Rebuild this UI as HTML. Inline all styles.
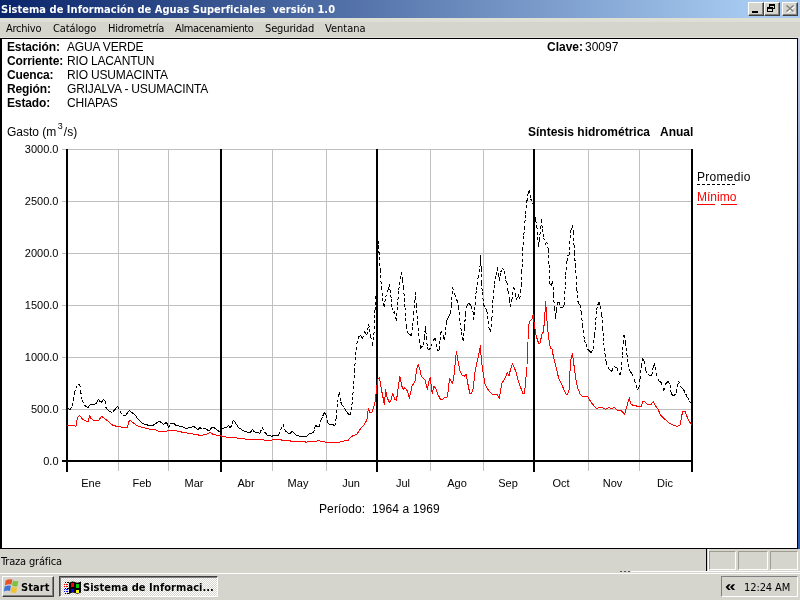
<!DOCTYPE html>
<html lang="es">
<head>
<meta charset="utf-8">
<title>Sistema de Información de Aguas Superficiales versión 1.0</title>
<style>
html,body{margin:0;padding:0;}
body{width:800px;height:600px;overflow:hidden;background:#d6d5cd;position:relative;font-family:"Liberation Sans","DejaVu Sans",sans-serif;font-size:12px;color:#000;}
.abs{position:absolute;}
#titlebar{left:0;top:0;width:800px;height:18px;background:linear-gradient(to right,#0a246a 0,#a6caf0 750px,#a6caf0 100%);}
#title{left:1px;top:2px;color:#fff;font-weight:bold;font-size:11px;line-height:15px;white-space:nowrap;font-family:"DejaVu Sans Condensed","DejaVu Sans","Liberation Sans",sans-serif;letter-spacing:0.03px;}
.tb{top:2px;width:16px;height:14px;background:#d6d5cd;box-sizing:border-box;border:1px solid;border-color:#fff #404040 #404040 #fff;box-shadow:inset -1px -1px 0 #808080;}
#menubar{left:0;top:18px;width:800px;height:20px;background:#d6d5cd;}
.menu{top:22px;font-size:11px;line-height:13px;white-space:nowrap;font-family:"DejaVu Sans Condensed","DejaVu Sans","Liberation Sans",sans-serif;letter-spacing:-0.25px;}
#client{left:0;top:38px;width:798px;height:511px;background:#fff;box-sizing:border-box;border:1px solid #000;border-left-width:2px;}
.lbl{font-size:12px;line-height:14px;white-space:nowrap;}
.b{font-weight:bold;}
#status{left:0;top:549px;width:800px;height:23px;background:#d6d5cd;}
#taskbar{left:0;top:573px;width:800px;height:27px;background:#d6d5cd;border-top:1px solid #fff;box-sizing:border-box;}
.tah{font-family:"DejaVu Sans Condensed","DejaVu Sans","Liberation Sans",sans-serif;white-space:nowrap;}

.pan{box-sizing:border-box;border:1px solid;border-color:#9d9d92 #fff #fff #9d9d92;}
#startbtn{box-sizing:border-box;background:#d6d5cd;border:1px solid;border-color:#fff #404040 #404040 #fff;box-shadow:inset -1px -1px 0 #808080;}
#taskbtn{box-sizing:border-box;border:1px solid;border-color:#404040 #fff #fff #404040;box-shadow:inset 1px 1px 0 #808080;background:repeating-conic-gradient(#fff 0% 25%,#d6d5cd 0% 50%) 0 0/2px 2px;}
#tray{box-sizing:border-box;border:1px solid;border-color:#808080 #fff #fff #808080;}
</style>
</head>
<body>
<div id="titlebar" class="abs"></div>
<div id="title" class="abs">Sistema de Información de Aguas Superficiales&nbsp; versión 1.0</div>
<div class="abs tb" style="left:748px"></div>
<div class="abs tb" style="left:764px"></div>
<div class="abs tb" style="left:782px"></div>
<svg class="abs" style="left:748px;top:2px" width="50" height="14" viewBox="0 0 50 14" shape-rendering="crispEdges">
<rect x="4" y="9" width="6" height="2" fill="#000"/>
<rect x="21.5" y="2.5" width="5" height="4" fill="none" stroke="#000"/><rect x="21" y="2" width="6" height="2" fill="#000"/>
<rect x="19.5" y="5.5" width="5" height="4" fill="#d6d5cd" stroke="#000"/><rect x="19" y="5" width="6" height="2" fill="#000"/>
<path d="M39.5,4.5 L46.5,10.5 M46.5,4.5 L39.5,10.5" stroke="#fff" stroke-width="1.6" shape-rendering="auto"/>
<path d="M38.5,3.5 L45.5,9.5 M45.5,3.5 L38.5,9.5" stroke="#808080" stroke-width="1.6" shape-rendering="auto"/>
</svg>
<div id="menubar" class="abs"></div>
<div class="abs" style="left:0;top:18px;width:800px;height:4px;background:#dfdfd4"></div>
<div class="abs" style="left:0;top:20px;width:800px;height:1px;background:#dcdcda"></div>
<div class="abs" style="left:0;top:37px;width:800px;height:1px;background:#e2e1da"></div>
<div class="abs menu" style="left:6px">Archivo</div>
<div class="abs menu" style="left:53px;letter-spacing:-0.12px">Catálogo</div>
<div class="abs menu" style="left:108px">Hidrometría</div>
<div class="abs menu" style="left:175px;letter-spacing:-0.38px">Almacenamiento</div>
<div class="abs menu" style="left:265px;letter-spacing:-0.13px">Seguridad</div>
<div class="abs menu" style="left:325px;letter-spacing:0px">Ventana</div>
<div id="client" class="abs"></div>
<div class="abs" style="left:798px;top:38px;width:2px;height:511px;background:linear-gradient(to bottom,#c9cfe6 0%,#8fa3cc 25%,#5577b5 60%,#2a5aa6 100%)"></div>

<div class="abs lbl b" style="left:7px;top:40px;letter-spacing:-0.13px">Estación:</div>
<div class="abs lbl" style="left:67px;top:40px;letter-spacing:-0.17px">AGUA VERDE</div>
<div class="abs lbl b" style="left:7px;top:54px;letter-spacing:-0.13px">Corriente:</div>
<div class="abs lbl" style="left:67px;top:54px;letter-spacing:-0.17px">RIO LACANTUN</div>
<div class="abs lbl b" style="left:7px;top:68px;letter-spacing:-0.13px">Cuenca:</div>
<div class="abs lbl" style="left:67px;top:68px;letter-spacing:-0.17px">RIO USUMACINTA</div>
<div class="abs lbl b" style="left:7px;top:82px;letter-spacing:-0.13px">Región:</div>
<div class="abs lbl" style="left:67px;top:82px;letter-spacing:-0.17px">GRIJALVA - USUMACINTA</div>
<div class="abs lbl b" style="left:7px;top:96px;letter-spacing:-0.13px">Estado:</div>
<div class="abs lbl" style="left:67px;top:96px;letter-spacing:-0.17px">CHIAPAS</div>
<div class="abs lbl b" style="left:547px;top:40px">Clave:</div>
<div class="abs lbl" style="left:585px;top:40px">30097</div>
<div class="abs lbl" style="left:7px;top:125px">Gasto (m<span style="font-size:9px;position:relative;top:-7.5px;margin:0 1px 0 1.5px">3</span>/s)</div>
<div class="abs lbl b" style="left:528px;top:125px">Síntesis hidrométrica</div>
<div class="abs lbl b" style="left:660px;top:125px">Anual</div>

<svg class="abs" style="left:0;top:0" width="800" height="600" viewBox="0 0 800 600" id="chart">
<!--CHART-->
<g shape-rendering="crispEdges">
<rect x="62" y="149" width="630" height="1" fill="#c0c0c0"/>
<rect x="62" y="201" width="630" height="1" fill="#c0c0c0"/>
<rect x="62" y="253" width="630" height="1" fill="#c0c0c0"/>
<rect x="62" y="305" width="630" height="1" fill="#c0c0c0"/>
<rect x="62" y="357" width="630" height="1" fill="#c0c0c0"/>
<rect x="62" y="409" width="630" height="1" fill="#c0c0c0"/>
<rect x="118" y="149" width="1" height="322" fill="#c0c0c0"/>
<rect x="168" y="149" width="1" height="322" fill="#c0c0c0"/>
<rect x="272" y="149" width="1" height="322" fill="#c0c0c0"/>
<rect x="326" y="149" width="1" height="322" fill="#c0c0c0"/>
<rect x="430" y="149" width="1" height="322" fill="#c0c0c0"/>
<rect x="483" y="149" width="1" height="322" fill="#c0c0c0"/>
<rect x="588" y="149" width="1" height="322" fill="#c0c0c0"/>
<rect x="639" y="149" width="1" height="322" fill="#c0c0c0"/>
<rect x="66" y="149" width="2" height="323" fill="#000"/>
<rect x="220" y="149" width="2" height="323" fill="#000"/>
<rect x="376" y="149" width="2" height="323" fill="#000"/>
<rect x="533" y="149" width="2" height="323" fill="#000"/>
<rect x="691" y="149" width="2" height="323" fill="#000"/>
<rect x="62" y="460" width="631" height="2" fill="#000"/>
</g>
<text x="58.5" y="153" text-anchor="end" font-size="11" font-family="Liberation Sans, sans-serif">3000.0</text>
<text x="58.5" y="205" text-anchor="end" font-size="11" font-family="Liberation Sans, sans-serif">2500.0</text>
<text x="58.5" y="257" text-anchor="end" font-size="11" font-family="Liberation Sans, sans-serif">2000.0</text>
<text x="58.5" y="309" text-anchor="end" font-size="11" font-family="Liberation Sans, sans-serif">1500.0</text>
<text x="58.5" y="361" text-anchor="end" font-size="11" font-family="Liberation Sans, sans-serif">1000.0</text>
<text x="58.5" y="413" text-anchor="end" font-size="11" font-family="Liberation Sans, sans-serif">500.0</text>
<text x="58.5" y="465" text-anchor="end" font-size="11" font-family="Liberation Sans, sans-serif">0.0</text>
<text x="91" y="487" text-anchor="middle" font-size="11" font-family="Liberation Sans, sans-serif">Ene</text>
<text x="142" y="487" text-anchor="middle" font-size="11" font-family="Liberation Sans, sans-serif">Feb</text>
<text x="194" y="487" text-anchor="middle" font-size="11" font-family="Liberation Sans, sans-serif">Mar</text>
<text x="246" y="487" text-anchor="middle" font-size="11" font-family="Liberation Sans, sans-serif">Abr</text>
<text x="298" y="487" text-anchor="middle" font-size="11" font-family="Liberation Sans, sans-serif">May</text>
<text x="351" y="487" text-anchor="middle" font-size="11" font-family="Liberation Sans, sans-serif">Jun</text>
<text x="403" y="487" text-anchor="middle" font-size="11" font-family="Liberation Sans, sans-serif">Jul</text>
<text x="457" y="487" text-anchor="middle" font-size="11" font-family="Liberation Sans, sans-serif">Ago</text>
<text x="508" y="487" text-anchor="middle" font-size="11" font-family="Liberation Sans, sans-serif">Sep</text>
<text x="561" y="487" text-anchor="middle" font-size="11" font-family="Liberation Sans, sans-serif">Oct</text>
<text x="612.5" y="487" text-anchor="middle" font-size="11" font-family="Liberation Sans, sans-serif">Nov</text>
<text x="665" y="487" text-anchor="middle" font-size="11" font-family="Liberation Sans, sans-serif">Dic</text>
<path d="M67.50,408.50L70.00,409.40M70.00,409.40L72.50,406.20M72.50,406.20L73.50,400.00M73.50,400.00L74.40,392.50M74.40,392.50L75.95,388.45M75.95,388.45L77.50,384.40M77.50,384.40L79.75,384.40M79.75,384.40L80.60,391.20M80.60,391.20L82.25,400.60M82.25,400.60L84.40,405.00M84.40,405.00L86.90,407.25M86.90,407.25L88.10,407.25M88.10,407.25L90.00,404.40M90.00,404.40L91.47,404.52M91.47,404.52L92.93,404.63M92.93,404.63L94.40,404.75M94.40,404.75L96.25,403.10M96.25,403.10L98.50,399.40M98.50,399.40L101.00,403.10M101.00,403.10L103.50,399.40M103.50,399.40L105.00,401.25M105.00,401.25L106.00,407.50M106.00,407.50L107.38,409.25M107.38,409.25L108.75,411.00M108.75,411.00L110.62,411.75M110.62,411.75L112.50,412.50M112.50,412.50L114.17,410.42M114.17,410.42L115.83,408.33M115.83,408.33L117.50,406.25M117.50,406.25L120.00,411.25M120.00,411.25L122.50,415.60M122.50,415.60L125.00,416.00M125.00,416.00L126.47,414.20M126.47,414.20L127.93,412.40M127.93,412.40L129.40,410.60M129.40,410.60L131.25,412.50M131.25,412.50L132.82,413.12M132.82,413.12L134.40,413.75M134.40,413.75L136.25,416.57M136.25,416.57L138.10,419.40M138.10,419.40L139.77,420.85M139.77,420.85L141.43,422.30M141.43,422.30L143.10,423.75M143.10,423.75L144.57,424.17M144.57,424.17L146.03,424.58M146.03,424.58L147.50,425.00M147.50,425.00L148.97,425.33M148.97,425.33L150.43,425.67M150.43,425.67L151.90,426.00M151.90,426.00L153.35,425.03M153.35,425.03L154.80,424.07M154.80,424.07L156.25,423.10M156.25,423.10L157.82,422.18M157.82,422.18L159.40,421.25M159.40,421.25L160.85,422.30M160.85,422.30L162.30,423.35M162.30,423.35L163.75,424.40M163.75,424.40L166.25,422.25M166.25,422.25L167.50,424.40M167.50,424.40L168.75,428.00M168.75,428.00L170.00,423.50M170.00,423.50L171.88,423.50M171.88,423.50L173.75,423.50M173.75,423.50L176.25,425.60M176.25,425.60L178.13,425.90M178.13,425.90L180.02,426.20M180.02,426.20L181.90,426.50M181.90,426.50L183.35,427.17M183.35,427.17L184.80,427.83M184.80,427.83L186.25,428.50M186.25,428.50L188.12,428.00M188.12,428.00L190.00,427.50M190.00,427.50L191.88,427.00M191.88,427.00L193.75,426.50M193.75,426.50L195.20,427.58M195.20,427.58L196.65,428.67M196.65,428.67L198.10,429.75M198.10,429.75L200.00,427.50M200.00,427.50L202.50,429.40M202.50,429.40L205.00,428.10M205.00,428.10L206.55,429.35M206.55,429.35L208.10,430.60M208.10,430.60L210.00,430.00M210.00,430.00L211.90,427.25M211.90,427.25L213.75,427.25M213.75,427.25L215.62,428.93M215.62,428.93L217.50,430.60M217.50,430.60L219.05,431.25M219.05,431.25L220.60,431.90M220.60,431.90L222.50,428.75M222.50,428.75L223.97,428.13M223.97,428.13L225.43,427.52M225.43,427.52L226.90,426.90M226.90,426.90L228.75,425.60M228.75,425.60L230.40,428.10M230.40,428.10L231.95,424.05M231.95,424.05L233.50,420.00M233.50,420.00L235.20,422.50M235.20,422.50L236.90,425.00M236.90,425.00L238.10,427.25M238.10,427.25L239.98,428.50M239.98,428.50L241.87,429.75M241.87,429.75L243.75,431.00M243.75,431.00L245.20,431.50M245.20,431.50L246.65,432.00M246.65,432.00L248.10,432.50M248.10,432.50L250.60,432.25M250.60,432.25L252.50,429.40M252.50,429.40L255.00,432.75M255.00,432.75L256.67,432.87M256.67,432.87L258.33,432.98M258.33,432.98L260.00,433.10M260.00,433.10L262.25,427.50M262.25,427.50L264.40,431.90M264.40,431.90L265.95,433.57M265.95,433.57L267.50,435.25M267.50,435.25L268.97,435.58M268.97,435.58L270.43,435.92M270.43,435.92L271.90,436.25M271.90,436.25L274.40,435.25M274.40,435.25L275.85,435.17M275.85,435.17L277.30,435.08M277.30,435.08L278.75,435.00M278.75,435.00L280.60,430.00M280.60,430.00L283.10,424.40M283.10,424.40L284.40,429.40M284.40,429.40L286.90,432.50M286.90,432.50L288.45,433.12M288.45,433.12L290.00,433.75M290.00,433.75L291.90,431.25M291.90,431.25L293.35,432.58M293.35,432.58L294.80,433.92M294.80,433.92L296.25,435.25M296.25,435.25L297.70,435.67M297.70,435.67L299.15,436.08M299.15,436.08L300.60,436.50M300.60,436.50L302.18,436.44M302.18,436.44L303.75,436.38M303.75,436.38L305.32,436.31M305.32,436.31L306.90,436.25M306.90,436.25L309.40,433.50M309.40,433.50L311.25,433.12M311.25,433.12L313.10,432.75M313.10,432.75L314.75,429.40M314.75,429.40L315.25,425.60M315.25,425.60L317.32,426.25M317.32,426.25L319.40,426.90M319.40,426.90L321.25,419.40M321.25,419.40L322.82,415.95M322.82,415.95L324.40,412.50M324.40,412.50L326.00,415.00M326.00,415.00L327.75,422.50M327.75,422.50L330.00,425.00M330.00,425.00L332.50,424.00M332.50,424.00L334.75,426.25M334.75,426.25L336.25,418.10M336.25,418.10L337.50,402.50M337.50,402.50L339.40,392.25M339.40,392.25L340.60,401.90M340.60,401.90L342.18,404.70M342.18,404.70L343.75,407.50M343.75,407.50L345.20,409.58M345.20,409.58L346.65,411.67M346.65,411.67L348.10,413.75M348.10,413.75L350.00,415.00M350.00,415.00L351.25,410.00M351.25,410.00L352.50,400.00M352.50,400.00L354.50,371.00M354.50,371.00L355.60,355.00M355.60,355.00L356.90,343.75M356.90,343.75L358.75,336.90M358.75,336.90L360.60,335.60M360.60,335.60L362.50,338.75M362.50,338.75L364.40,331.25M364.40,331.25L366.90,335.00M366.90,335.00L368.75,323.75M368.75,323.75L370.60,336.25M370.60,336.25L372.75,345.60M372.75,345.60L374.40,328.75M374.40,328.75L375.00,310.00M375.00,310.00L376.00,295.00M376.00,295.00L377.20,270.00M377.20,270.00L378.60,241.00M378.60,241.00L379.20,257.50M379.20,257.50L380.20,270.00M380.20,270.00L381.40,287.50M381.40,287.50L382.50,298.00M382.50,298.00L384.00,306.90M384.00,306.90L385.60,297.50M385.60,297.50L388.10,290.00M388.10,290.00L389.40,283.75M389.40,283.75L390.00,290.00M390.00,290.00L391.25,298.75M391.25,298.75L391.90,307.50M391.90,307.50L393.10,313.10M393.10,313.10L394.40,311.25M394.40,311.25L396.50,321.25M396.50,321.25L397.50,305.00M397.50,305.00L398.75,290.00M398.75,290.00L400.00,278.75M400.00,278.75L401.50,271.90M401.50,271.90L402.50,280.00M402.50,280.00L403.50,287.50M403.50,287.50L404.40,298.75M404.40,298.75L405.00,307.50M405.00,307.50L406.25,326.25M406.25,326.25L408.10,333.10M408.10,333.10L409.68,334.35M409.68,334.35L411.25,335.60M411.25,335.60L412.50,326.25M412.50,326.25L413.75,313.75M413.75,313.75L415.00,298.75M415.00,298.75L415.60,291.90M415.60,291.90L416.25,305.00M416.25,305.00L417.75,322.50M417.75,322.50L419.40,340.00M419.40,340.00L420.60,348.75M420.60,348.75L423.10,345.00M423.10,345.00L424.40,337.50M424.40,337.50L425.60,325.60M425.60,325.60L426.25,337.50M426.25,337.50L427.50,347.50M427.50,347.50L428.75,350.60M428.75,350.60L431.25,346.25M431.25,346.25L433.75,339.40M433.75,339.40L435.25,338.50M435.25,338.50L436.25,343.75M436.25,343.75L437.75,351.25M437.75,351.25L439.40,349.40M439.40,349.40L440.00,340.00M440.00,340.00L441.00,330.60M441.00,330.60L443.10,335.60M443.10,335.60L444.40,340.00M444.40,340.00L445.60,330.00M445.60,330.00L446.25,321.90M446.25,321.90L447.70,318.97M447.70,318.97L449.15,316.03M449.15,316.03L450.60,313.10M450.60,313.10L451.50,305.00M451.50,305.00L452.50,287.50M452.50,287.50L454.40,293.75M454.40,293.75L456.90,300.00M456.90,300.00L458.50,306.90M458.50,306.90L460.00,322.50M460.00,322.50L461.55,331.88M461.55,331.88L463.10,341.25M463.10,341.25L464.40,327.50M464.40,327.50L465.60,313.75M465.60,313.75L466.90,305.60M466.90,305.60L468.75,303.10M468.75,303.10L471.25,305.60M471.25,305.60L473.10,312.50M473.10,312.50L473.50,320.00M473.50,320.00L474.75,310.00M474.75,310.00L476.25,290.00M476.25,290.00L478.10,277.50M478.10,277.50L480.00,266.25M480.00,266.25L480.60,255.00M480.60,255.00L481.25,268.75M481.25,268.75L481.60,283.00M481.60,283.00L482.25,292.50M482.25,292.50L483.75,305.00M483.75,305.00L485.32,307.80M485.32,307.80L486.90,310.60M486.90,310.60L488.75,327.50M488.75,327.50L490.60,331.90M490.60,331.90L491.90,318.75M491.90,318.75L493.10,298.75M493.10,298.75L494.40,284.00M494.40,284.00L496.25,275.00M496.25,275.00L497.50,267.50M497.50,267.50L498.75,275.00M498.75,275.00L499.40,281.00M499.40,281.00L500.60,272.50M500.60,272.50L502.50,268.10M502.50,268.10L504.40,270.60M504.40,270.60L505.60,280.00M505.60,280.00L506.90,282.50M506.90,282.50L508.10,291.25M508.10,291.25L509.40,300.00M509.40,300.00L510.25,306.90M510.25,306.90L511.90,300.00M511.90,300.00L513.75,287.50M513.75,287.50L515.60,293.75M515.60,293.75L516.50,300.00M516.50,300.00L518.10,294.40M518.10,294.40L519.75,298.75M519.75,298.75L520.60,292.50M520.60,292.50L521.25,285.00M521.25,285.00L521.90,272.50M521.90,272.50L522.75,250.00M522.75,250.00L523.75,235.00M523.75,235.00L524.40,228.75M524.40,228.75L525.60,213.75M525.60,213.75L526.90,201.25M526.90,201.25L528.10,193.75M528.10,193.75L529.40,190.00M529.40,190.00L530.60,198.75M530.60,198.75L532.75,202.50M532.75,202.50L534.00,211.25M534.00,211.25L535.60,220.00M535.60,220.00L536.90,226.25M536.90,226.25L538.10,243.75M538.10,243.75L538.60,247.50M538.60,247.50L539.75,240.00M539.75,240.00L540.25,228.75M540.25,228.75L541.50,219.40M541.50,219.40L542.25,228.75M542.25,228.75L543.75,237.50M543.75,237.50L545.25,244.50M545.25,244.50L546.60,241.50M546.60,241.50L548.50,250.00M548.50,250.00L549.00,265.00M549.00,265.00L550.00,283.75M550.00,283.75L551.25,285.60M551.25,285.60L552.75,281.25M552.75,281.25L553.50,295.00M553.50,295.00L554.40,307.50M554.40,307.50L555.60,318.75M555.60,318.75L556.25,310.00M556.25,310.00L557.50,302.50M557.50,302.50L559.00,301.90M559.00,301.90L560.25,307.50M560.25,307.50L562.50,308.10M562.50,308.10L564.40,305.00M564.40,305.00L565.00,290.00M565.00,290.00L565.60,275.00M565.60,275.00L566.90,261.25M566.90,261.25L568.10,255.00M568.10,255.00L569.40,255.00M569.40,255.00L569.75,243.75M569.75,243.75L570.60,231.25M570.60,231.25L572.50,225.00M572.50,225.00L573.50,232.50M573.50,232.50L574.00,245.00M574.00,245.00L574.60,252.50M574.60,252.50L575.25,265.00M575.25,265.00L576.00,276.25M576.00,276.25L576.90,290.00M576.90,290.00L578.10,302.50M578.10,302.50L580.00,305.00M580.00,305.00L581.25,312.50M581.25,312.50L582.50,325.00M582.50,325.00L584.40,340.00M584.40,340.00L585.95,344.38M585.95,344.38L587.50,348.75M587.50,348.75L589.38,350.93M589.38,350.93L591.25,353.10M591.25,353.10L593.10,348.75M593.10,348.75L594.40,335.00M594.40,335.00L595.60,325.00M595.60,325.00L596.50,310.00M596.50,310.00L598.75,301.90M598.75,301.90L600.60,306.25M600.60,306.25L601.90,315.00M601.90,315.00L602.75,327.50M602.75,327.50L603.75,342.50M603.75,342.50L605.00,353.75M605.00,353.75L606.25,362.50M606.25,362.50L608.75,369.40M608.75,369.40L610.33,370.32M610.33,370.32L611.90,371.25M611.90,371.25L613.75,366.50M613.75,366.50L615.33,367.15M615.33,367.15L616.90,367.80M616.90,367.80L618.75,372.50M618.75,372.50L620.00,375.00M620.00,375.00L621.25,370.00M621.25,370.00L622.25,355.00M622.25,355.00L623.10,342.50M623.10,342.50L624.00,335.00M624.00,335.00L625.60,342.50M625.60,342.50L626.90,353.75M626.90,353.75L628.10,363.75M628.10,363.75L630.00,371.25M630.00,371.25L632.25,373.75M632.25,373.75L634.40,380.00M634.40,380.00L635.95,385.15M635.95,385.15L637.50,390.30M637.50,390.30L639.00,387.50M639.00,387.50L640.00,378.75M640.00,378.75L641.25,366.25M641.25,366.25L642.50,358.10M642.50,358.10L644.40,361.25M644.40,361.25L645.60,370.00M645.60,370.00L647.50,373.75M647.50,373.75L650.00,376.25M650.00,376.25L651.90,375.00M651.90,375.00L653.10,367.50M653.10,367.50L654.00,363.10M654.00,363.10L655.00,367.50M655.00,367.50L656.25,373.75M656.25,373.75L658.75,380.60M658.75,380.60L661.25,382.50M661.25,382.50L663.75,390.60M663.75,390.60L665.60,383.75M665.60,383.75L668.10,381.50M668.10,381.50L670.00,385.00M670.00,385.00L671.25,393.75M671.25,393.75L673.75,396.25M673.75,396.25L676.25,392.50M676.25,392.50L677.75,386.25M677.75,386.25L678.50,380.60M678.50,380.60L680.60,386.25M680.60,386.25L682.17,388.12M682.17,388.12L683.75,390.00M683.75,390.00L685.62,393.75M685.62,393.75L687.50,397.50M687.50,397.50L689.38,400.62M689.38,400.62L691.25,403.75" fill="none" stroke="#000" stroke-width="1" stroke-dasharray="3 2.4" stroke-linecap="butt" shape-rendering="crispEdges"/>
<path d="M67.5,425.6 L73.1,425.4 L76,426.25 L77.5,417.5 L79.4,415.25 L82.5,419 L86.25,421.25 L88.5,421.25 L89.4,415 L90.6,418.1 L93.5,420.25 L98.75,420.25 L101.6,416.25 L105,418.75 L112.5,425 L116.25,426.25 L118.75,426.25 L121.25,427.25 L127.5,427.25 L128.75,421.9 L130.4,420.25 L132.5,422.25 L136.9,425.6 L142.5,427.5 L147.5,428.5 L152.5,430 L155,429.6 L158.75,431.25 L166.9,431.25 L168.75,430.25 L173.75,430.25 L183.75,432.5 L195,434.4 L201.9,435.6 L203.75,434.4 L207.5,434 L210,432.25 L213.75,434.75 L220,435.6 L225,436.9 L235,437.75 L245,439 L255,439.4 L262.5,439.4 L265,440.4 L271.25,440.4 L273.1,439.4 L280,439.4 L282.5,440.4 L288.75,440.4 L291.25,441.25 L303.75,441.5 L306.25,442.25 L310,441.25 L317.5,441 L318.75,440.4 L320.6,441.25 L326.25,442.25 L338.75,442.25 L342.5,441.3 L348.1,440.25 L351.9,436.25 L356.9,434.4 L361.25,427.5 L363.75,425.6 L366.9,420 L367.75,412.5 L368.5,408.75 L370,413.1 L372.25,411.9 L375,402.5 L376.25,392.5 L377.5,380 L379.4,377.5 L381.25,388.75 L384.4,404.4 L385.6,389.4 L386.9,396.9 L389.4,402.75 L391.25,399.4 L392.75,393.1 L395,399.4 L396.5,400.25 L398.1,388.75 L399.75,376.25 L401.9,386.25 L403.1,389.4 L404.75,387.5 L407.5,391.25 L409.4,398.5 L411.9,386.25 L415,381.25 L416.5,370 L418.1,364.4 L420,370 L421.25,376.25 L425,380 L427.5,390 L428.75,381.25 L430.25,377.5 L432.25,393.75 L433.75,386.25 L435.6,388.1 L438.1,395 L440.6,399.4 L442.5,399.4 L445,397.5 L447.5,396.9 L448.75,385 L449.75,378.75 L452.5,383.75 L454.4,372.5 L455.6,358.75 L456.5,351.25 L457.75,360 L460,371.25 L461.9,375 L464.4,376.25 L466.25,374.4 L468.1,385 L469.75,393.1 L471.5,393.75 L473.1,388.75 L475,372.5 L477.5,360 L479.4,351.25 L480.6,345.6 L481.25,360 L483.1,372.5 L485,384.4 L488.75,390.6 L492.5,394.4 L496.9,394.4 L499.4,398.1 L501.9,383.1 L503.75,380.6 L507.5,372.5 L509,376.25 L510.6,368.75 L512.5,363.5 L516.25,372.5 L518.1,380 L520.6,387.5 L522.75,393.1 L524.4,393.1 L525.5,383.5 L526.7,367.5 M527.2,363.8 L527.75,342.5 M528.3,339.3 L528.8,325 L530,320.6 L531.9,319.4 L533.1,314.4 L534.4,325 L536.25,336.25 L538.75,343.75 L540,343.1 L541.9,334.4 L543.1,332.5 L544.4,322.5 L545.6,301.9 L546.25,310 L547.5,327.5 L549.4,343.75 L550.6,348.75 L551.9,348.1 L553.1,355 L555.6,365 L558.75,378.75 L562.5,386.25 L565.6,393.75 L567.5,394.4 L569.1,390 L569.75,373.75 L571.25,356.25 L572.5,353.75 L573.75,363.5 L575.6,377.5 L577.5,387.5 L580,393.75 L582.25,396.25 L587.5,396.25 L591.25,402.5 L596.25,408.5 L600,407.5 L602.5,407.75 L605.6,409.4 L608.75,407.5 L611.9,408.75 L614.4,407.5 L617.5,410.6 L620.6,410 L624.6,414.4 L626.9,406.25 L629.4,397.5 L630.6,403.75 L632.5,405.1 L637.5,406.25 L641.25,406.1 L642.8,401.9 L644.4,401.4 L647.5,404.4 L651.25,404.4 L653.3,401.5 L655,405 L658.1,409.4 L660.6,415 L665,419.4 L669.4,423.1 L673.75,425.6 L677.5,426.25 L680,425 L681.25,418.75 L682.5,411.9 L685,411.25 L686.9,416.25 L688.75,420.6 L691.5,425" fill="none" stroke="#f00" stroke-width="1" stroke-linejoin="round" shape-rendering="crispEdges"/>
<!--/CHART-->
</svg>


<div class="abs lbl" style="left:697px;top:170px;letter-spacing:0.3px">Promedio</div>
<div class="abs" style="left:697px;top:184px;width:39px;height:1px;background:repeating-linear-gradient(to right,#000 0,#000 3px,transparent 3px,transparent 5px)"></div>
<div class="abs lbl" style="left:697px;top:190px;color:#f00">Mínimo</div>
<div class="abs" style="left:697px;top:204px;width:18px;height:1px;background:#f00"></div>
<div class="abs" style="left:721px;top:204px;width:16px;height:1px;background:#f00"></div>
<div class="abs lbl" style="left:319px;top:502px;letter-spacing:0.1px">Período:&nbsp; 1964 a 1969</div>
<div id="status" class="abs"></div>
<div class="abs tah" style="left:1px;top:555px;font-size:11px;line-height:13px;letter-spacing:-0.17px">Traza gráfica</div>
<div id="taskbar" class="abs"></div>
<div class="abs" style="left:631px;top:571px;width:169px;height:1px;background:#fff"></div>
<div class="abs" style="left:620px;top:571px;width:2px;height:1px;background:#555"></div>
<div class="abs" style="left:624px;top:571px;width:2px;height:1px;background:#555"></div>
<div class="abs" style="left:628px;top:571px;width:2px;height:1px;background:#555"></div>

<div class="abs" style="left:706px;top:549px;width:1px;height:22px;background:#000"></div>
<div class="abs" style="left:708px;top:549px;width:1px;height:22px;background:#fff"></div>
<div class="abs pan" style="left:709px;top:551px;width:27px;height:19px"></div>
<div class="abs pan" style="left:738px;top:551px;width:30px;height:19px"></div>
<div class="abs pan" style="left:770px;top:551px;width:28px;height:19px"></div>
<div class="abs" id="startbtn" style="left:2px;top:576px;width:52px;height:21px"></div>
<div class="abs tah b" style="left:21px;top:581px;font-size:11px;line-height:13px;letter-spacing:0.1px">Start</div>
<div class="abs" id="taskbtn" style="left:59px;top:576px;width:159px;height:21px"></div>
<div class="abs tah b" style="left:83px;top:581px;font-size:11px;line-height:13px;letter-spacing:0.05px">Sistema de Informaci...</div>
<div class="abs" id="tray" style="left:721px;top:576px;width:77px;height:21px"></div>
<div class="abs b" style="left:725px;top:577px;font-size:15px;line-height:17px;font-family:'Liberation Sans',sans-serif;transform:scaleX(1.3);transform-origin:0 0">«</div>
<div class="abs tah" style="left:744px;top:581px;font-size:11px;line-height:13px;letter-spacing:-0.1px">12:24 AM</div>

<svg class="abs" style="left:0;top:572px" width="100" height="28" viewBox="0 572 100 28">
<g id="startflag">
<path d="M5.6,580.6 Q9,578.6 12.4,579.6 L11.4,584.6 Q8,583.8 4.9,585.6 Z" fill="#e5532a"/>
<path d="M13,580.6 Q15.5,582 18.3,580.8 L17.4,586.2 Q14.8,587.2 12,585.6 Z" fill="#7cc23c"/>
<path d="M4.7,586.6 Q8,584.8 11,585.8 L10,591 Q7,590 3.8,591.6 Z" fill="#3f74d8"/>
<path d="M11.8,586.8 Q14.5,588.2 17.2,587.2 L16.2,592.6 Q13.6,593.4 10.8,592 Z" fill="#f2c32c"/>
</g>
<g id="appicon" shape-rendering="crispEdges">
<path d="M69,583 Q72,580.5 75,582 Q78,583.5 81,581.5 L81,592.5 Q78,594.5 75,593 Q72,591.5 69,594 Z" fill="#000" shape-rendering="auto"/>
<rect x="71" y="583" width="3" height="4" fill="#f00"/>
<rect x="76" y="584" width="3" height="4" fill="#0c0"/>
<rect x="71" y="589" width="3" height="3" fill="#00f"/>
<rect x="76" y="590" width="3" height="3" fill="#ff0"/>
<rect x="64" y="584" width="1" height="1" fill="#f00"/><rect x="66" y="584" width="2" height="1" fill="#f00"/>
<rect x="64" y="586" width="1" height="1" fill="#f00"/><rect x="66" y="586" width="2" height="1" fill="#f00"/>
<rect x="64" y="589" width="1" height="1" fill="#00f"/><rect x="66" y="589" width="2" height="1" fill="#00f"/>
<rect x="64" y="591" width="1" height="1" fill="#00f"/><rect x="66" y="591" width="2" height="1" fill="#00f"/>
<rect x="65" y="582" width="1" height="1" fill="#000"/><rect x="67" y="582" width="2" height="1" fill="#000"/>
<rect x="65" y="588" width="1" height="1" fill="#000"/><rect x="67" y="588" width="2" height="1" fill="#000"/>
<rect x="65" y="593" width="1" height="1" fill="#000"/><rect x="67" y="593" width="2" height="1" fill="#000"/>
</g>
</svg>
</body>
</html>
